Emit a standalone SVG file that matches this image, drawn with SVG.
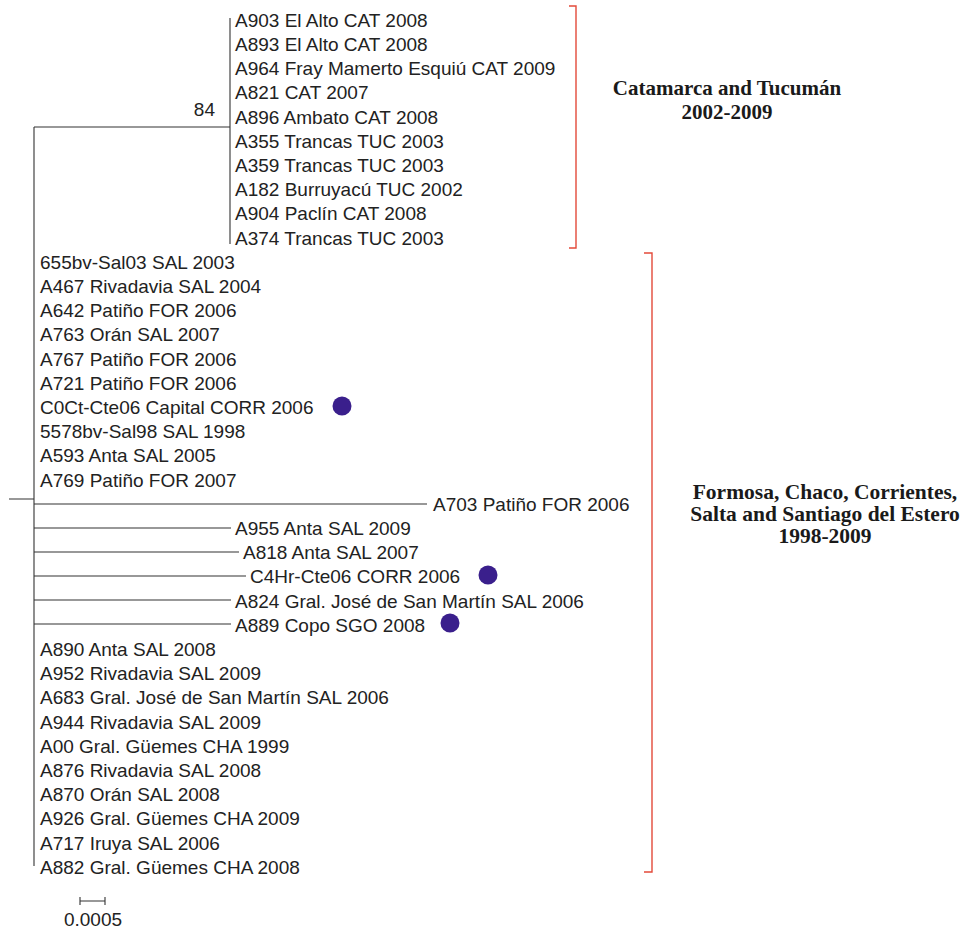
<svg xmlns="http://www.w3.org/2000/svg" width="963" height="932" viewBox="0 0 963 932">
<style>
.t{font-family:"Liberation Sans",Arial,sans-serif;font-size:19px;fill:#222}
.h{font-family:"Liberation Serif","Times New Roman",serif;font-size:21px;font-weight:bold;fill:#1a1a1a;text-anchor:middle}
.br{stroke:#e34a3a;stroke-width:1.4;fill:none}
.ln{stroke:#333;stroke-width:1.1;fill:none}
.dot{fill:#3a1f8c}
</style>
<rect width="963" height="932" fill="#fff"/>
<g id="connectors">
<path class="ln" d="M9 499H34M34 127V866M34 127H230M230 18V244"/>
<path class="ln" d="M34 504H427M34 528H231M34 552H239M34 576H246M34 600H231M34 624H231"/>
</g>
<g id="bootstrap"><text class="t" x="215" y="116" text-anchor="end">84</text></g>
<g id="clade-catamarca">
<text class="t" x="235" y="27">A903 El Alto CAT 2008</text>
<text class="t" x="235" y="51">A893 El Alto CAT 2008</text>
<text class="t" x="235" y="75">A964 Fray Mamerto Esquiú CAT 2009</text>
<text class="t" x="235" y="99">A821 CAT 2007</text>
<text class="t" x="235" y="124">A896 Ambato CAT 2008</text>
<text class="t" x="235" y="148">A355 Trancas TUC 2003</text>
<text class="t" x="235" y="172">A359 Trancas TUC 2003</text>
<text class="t" x="235" y="196">A182 Burruyacú TUC 2002</text>
<text class="t" x="235" y="220">A904 Paclín CAT 2008</text>
<text class="t" x="235" y="245">A374 Trancas TUC 2003</text>
</g>
<g id="clade-formosa">
<text class="t" x="40" y="269">655bv-Sal03 SAL 2003</text>
<text class="t" x="40" y="293">A467 Rivadavia SAL 2004</text>
<text class="t" x="40" y="317">A642 Patiño FOR 2006</text>
<text class="t" x="40" y="341">A763 Orán SAL 2007</text>
<text class="t" x="40" y="366">A767 Patiño FOR 2006</text>
<text class="t" x="40" y="390">A721 Patiño FOR 2006</text>
<text class="t" x="40" y="414">C0Ct-Cte06 Capital CORR 2006</text>
<text class="t" x="40" y="438">5578bv-Sal98 SAL 1998</text>
<text class="t" x="40" y="462">A593 Anta SAL 2005</text>
<text class="t" x="40" y="487">A769 Patiño FOR 2007</text>
<text class="t" x="433" y="511">A703 Patiño FOR 2006</text>
<text class="t" x="235" y="535">A955 Anta SAL 2009</text>
<text class="t" x="243" y="559">A818 Anta SAL 2007</text>
<text class="t" x="250" y="583">C4Hr-Cte06 CORR 2006</text>
<text class="t" x="235" y="608">A824 Gral. José de San Martín SAL 2006</text>
<text class="t" x="235" y="632">A889 Copo SGO 2008</text>
<text class="t" x="40" y="656">A890 Anta SAL 2008</text>
<text class="t" x="40" y="680">A952 Rivadavia SAL 2009</text>
<text class="t" x="40" y="704">A683 Gral. José de San Martín SAL 2006</text>
<text class="t" x="40" y="729">A944 Rivadavia SAL 2009</text>
<text class="t" x="40" y="753">A00 Gral. Güemes CHA 1999</text>
<text class="t" x="40" y="777">A876 Rivadavia SAL 2008</text>
<text class="t" x="40" y="801">A870 Orán SAL 2008</text>
<text class="t" x="40" y="825">A926 Gral. Güemes CHA 2009</text>
<text class="t" x="40" y="850">A717 Iruya SAL 2006</text>
<text class="t" x="40" y="874">A882 Gral. Güemes CHA 2008</text>
</g>
<g id="markers">
<circle class="dot" cx="342" cy="406" r="9.5"/>
<circle class="dot" cx="488" cy="575" r="9.5"/>
<circle class="dot" cx="450" cy="623" r="9.5"/>
</g>
<g id="bracket-catamarca">
<path class="br" d="M569 6H576V248H569"/>
<text class="h" x="727" y="95">Catamarca and Tucumán</text>
<text class="h" x="727" y="119">2002-2009</text>
</g>
<g id="bracket-formosa">
<path class="br" d="M644 253H652V872H644"/>
<text class="h" x="825" y="499" style="font-size:21.5px">Formosa, Chaco, Corrientes,</text>
<text class="h" x="825" y="521" style="font-size:21.5px">Salta and Santiago del Estero</text>
<text class="h" x="825" y="543" style="font-size:21.5px">1998-2009</text>
</g>
<g id="scale">
<path class="ln" d="M80 901H105M80 897V905M105 897V905"/>
<text class="t" x="93" y="926" text-anchor="middle">0.0005</text>
</g>
</svg>
